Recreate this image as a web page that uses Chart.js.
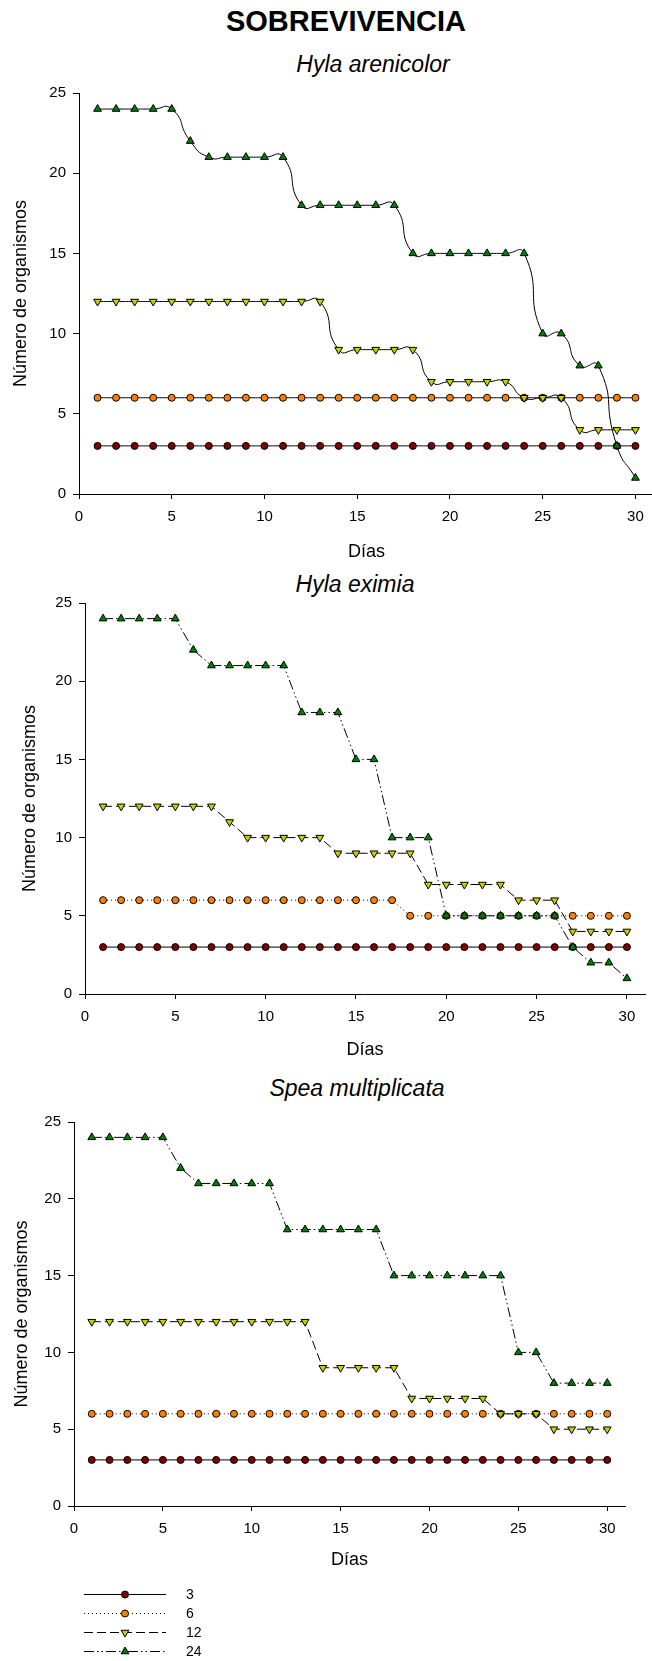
<!DOCTYPE html>
<html>
<head>
<meta charset="utf-8">
<script src="https://cdn.jsdelivr.net/npm/chart.js@4.4.1/dist/chart.umd.min.js"></script>
<style>
html, body { margin: 0; padding: 0; background: #fff; overflow: hidden; }
body { width: 652px; height: 1661px; position: relative; font-family: 'Liberation Sans', Arial, sans-serif; color: #000; }
.t { position: absolute; transform: translate(-50%, -50%); white-space: nowrap; line-height: 1; }
canvas { position: absolute; left: 0; }
</style>
</head>
<body>
<div class="t" style="left:346px;top:21px;font-size:29px;font-weight:bold">SOBREVIVENCIA</div>
<div class="t" style="left:373px;top:64px;font-size:23px;font-style:italic">Hyla arenicolor</div>
<div class="t" style="left:355px;top:584px;font-size:23px;font-style:italic">Hyla eximia</div>
<div class="t" style="left:357px;top:1088px;font-size:23px;font-style:italic">Spea multiplicata</div>
<canvas id="c1" width="662" height="486" style="top:77px"></canvas>
<canvas id="c2" width="652" height="474" style="top:587px"></canvas>
<canvas id="c3" width="652" height="555" style="top:1106px"></canvas>
<script>
// días del experimento
const days = [1, 2, 3, 4, 5, 6, 7, 8, 9, 10, 11, 12, 13, 14, 15, 16, 17, 18, 19, 20, 21, 22, 23, 24, 25, 26, 27, 28, 29, 30];
const seriesLabels = ['3', '6', '12', '24'];

// Hyla arenicolor
const ha3  = [3, 3, 3, 3, 3, 3, 3, 3, 3, 3, 3, 3, 3, 3, 3, 3, 3, 3, 3, 3, 3, 3, 3, 3, 3, 3, 3, 3, 3, 3];
const ha6  = [6, 6, 6, 6, 6, 6, 6, 6, 6, 6, 6, 6, 6, 6, 6, 6, 6, 6, 6, 6, 6, 6, 6, 6, 6, 6, 6, 6, 6, 6];
const ha12 = [12, 12, 12, 12, 12, 12, 12, 12, 12, 12, 12, 12, 12, 9, 9, 9, 9, 9, 7, 7, 7, 7, 7, 6, 6, 6, 4, 4, 4, 4];
const ha24 = [24, 24, 24, 24, 24, 22, 21, 21, 21, 21, 21, 18, 18, 18, 18, 18, 18, 15, 15, 15, 15, 15, 15, 15, 10, 10, 8, 8, 3, 1];

// Hyla eximia
const he3  = [3, 3, 3, 3, 3, 3, 3, 3, 3, 3, 3, 3, 3, 3, 3, 3, 3, 3, 3, 3, 3, 3, 3, 3, 3, 3, 3, 3, 3, 3];
const he6  = [6, 6, 6, 6, 6, 6, 6, 6, 6, 6, 6, 6, 6, 6, 6, 6, 6, 5, 5, 5, 5, 5, 5, 5, 5, 5, 5, 5, 5, 5];
const he12 = [12, 12, 12, 12, 12, 12, 12, 11, 10, 10, 10, 10, 10, 9, 9, 9, 9, 9, 7, 7, 7, 7, 7, 6, 6, 6, 4, 4, 4, 4];
const he24 = [24, 24, 24, 24, 24, 22, 21, 21, 21, 21, 21, 18, 18, 18, 15, 15, 10, 10, 10, 5, 5, 5, 5, 5, 5, 5, 3, 2, 2, 1];

// Spea multiplicata
const sm3  = [3, 3, 3, 3, 3, 3, 3, 3, 3, 3, 3, 3, 3, 3, 3, 3, 3, 3, 3, 3, 3, 3, 3, 3, 3, 3, 3, 3, 3, 3];
const sm6  = [6, 6, 6, 6, 6, 6, 6, 6, 6, 6, 6, 6, 6, 6, 6, 6, 6, 6, 6, 6, 6, 6, 6, 6, 6, 6, 6, 6, 6, 6];
const sm12 = [12, 12, 12, 12, 12, 12, 12, 12, 12, 12, 12, 12, 12, 9, 9, 9, 9, 9, 7, 7, 7, 7, 7, 6, 6, 6, 5, 5, 5, 5];
const sm24 = [24, 24, 24, 24, 24, 22, 21, 21, 21, 21, 21, 18, 18, 18, 18, 18, 18, 15, 15, 15, 15, 15, 15, 15, 10, 10, 8, 8, 8, 8];

const FONT = "'Liberation Sans', Arial, sans-serif";
const markFill = ['#800000', '#FF8000', '#CCCC00', '#008000'];
const markStyle = ['circle', 'circle', 'triangle', 'triangle'];
const markRot = [0, 0, 180, 0];
const markSize = [3.5, 3.5, 4.5, 4.5];
const dashes = [[], [1, 3], [9, 4], [10, 3, 1.5, 3, 1.5, 3]];

function buildSets(values, smooth) {
  return values.map((v, i) => ({
    label: seriesLabels[i],
    data: v.map((y, j) => ({ x: days[j], y })),
    borderColor: '#000',
    borderWidth: 1,
    borderDash: smooth ? [] : dashes[i],
    tension: smooth ? 0.6 : 0,
    pointStyle: markStyle[i],
    pointRotation: markRot[i],
    pointRadius: markSize[i],
    pointBackgroundColor: markFill[i],
    pointBorderColor: '#000',
    pointBorderWidth: 1,
    order: 3 - i
  }));
}

function buildScales(yWidth, xHeight, yTitlePad) {
  return {
    x: {
      type: 'linear', min: 0, max: 31,
      afterFit: s => { s.height = xHeight; },
      ticks: { stepSize: 5, includeBounds: false, padding: 9, maxRotation: 0, color: '#000', font: { family: FONT, size: 15 } },
      grid: { drawOnChartArea: false, drawTicks: true, tickLength: 5, color: '#000' },
      border: { color: '#000', width: 1 },
      title: { display: true, text: 'Días', color: '#000', font: { family: FONT, size: 18 }, padding: { top: 0, bottom: 0 } }
    },
    y: {
      min: 0, max: 25,
      afterFit: s => { s.width = yWidth; },
      ticks: { stepSize: 5, padding: 7, color: '#000', font: { family: FONT, size: 15 } },
      grid: { drawOnChartArea: false, drawTicks: true, tickLength: 6, color: '#000' },
      border: { color: '#000', width: 1 },
      title: { display: true, text: 'Número de organismos', color: '#000', font: { family: FONT, size: 18 }, padding: { top: yTitlePad, bottom: 0 } }
    }
  };
}

// leyenda con línea + marcador, debajo del último gráfico
const lineLegend = {
  id: 'lineLegend',
  afterDraw(chart) {
    const ctx = chart.ctx;
    const base = chart.scales.y.getPixelForValue(0) + 88;
    ctx.save();
    chart.data.datasets.forEach((ds, i) => {
      const y = base + i * 19;
      ctx.strokeStyle = '#000';
      ctx.lineWidth = 1;
      ctx.setLineDash(dashes[i]);
      ctx.beginPath();
      ctx.moveTo(84, y + 0.5);
      ctx.lineTo(166, y + 0.5);
      ctx.stroke();
      ctx.setLineDash([]);
      ctx.fillStyle = markFill[i];
      ctx.strokeStyle = '#000';
      Chart.helpers.drawPoint(ctx, { pointStyle: markStyle[i], rotation: markRot[i], radius: markSize[i], borderWidth: 1 }, 125, y + 0.5);
      ctx.fillStyle = '#000';
      ctx.font = '14px ' + FONT;
      ctx.textBaseline = 'middle';
      ctx.textAlign = 'left';
      ctx.fillText(ds.label, 186, y + 1);
    });
    ctx.restore();
  }
};

function makeChart(id, values, smooth, yWidth, xHeight, yTitlePad, padding, plugins) {
  return new Chart(document.getElementById(id), {
    type: 'line',
    data: { datasets: buildSets(values, smooth) },
    options: {
      responsive: false, animation: false,
      layout: { padding },
      plugins: { legend: { display: false }, tooltip: { enabled: false } },
      scales: buildScales(yWidth, xHeight, yTitlePad)
    },
    plugins: plugins || []
  });
}

makeChart('c1', [ha3, ha6, ha12, ha24], true, 79, 69, 10, { top: 12, right: 8, bottom: 0, left: 0 });
makeChart('c2', [he3, he6, he12, he24], false, 85, 67, 19, { top: 12, right: 7, bottom: 0, left: 0 });
makeChart('c3', [sm3, sm6, sm12, sm24], false, 74, 65, 11, { top: 12, right: 27, bottom: 90, left: 0 }, [lineLegend]);
</script>
</body>
</html>
